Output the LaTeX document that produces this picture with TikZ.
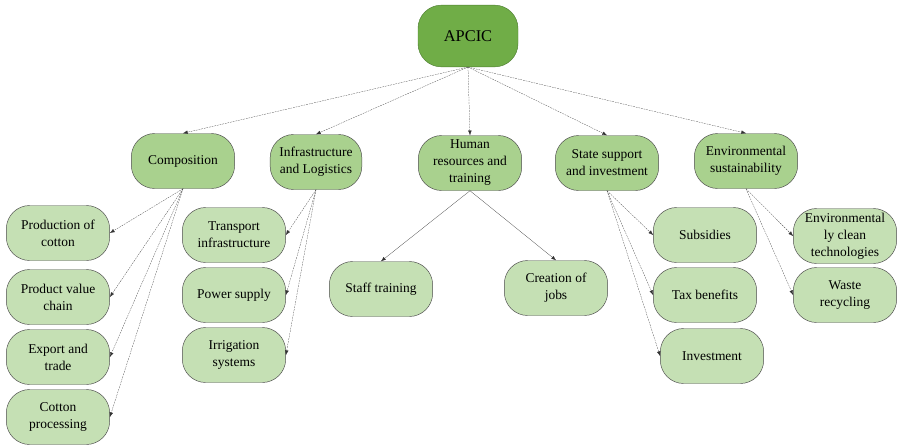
\documentclass[tikz,border=0pt]{standalone}
\usepackage{fontspec}
\setmainfont{Liberation Serif}
\newfontfamily\boxfont{Liberation Serif}
\usetikzlibrary{arrows.meta}
\definecolor{topgreen}{HTML}{70AD47}
\definecolor{topedge}{HTML}{4F7F33}
\definecolor{midgreen}{HTML}{A9D18E}
\definecolor{lowgreen}{HTML}{C5E0B4}
\begin{document}
\begin{tikzpicture}[x=0.03cm,y=-0.03cm,
	box/.style={draw=gray!60!black,thin,rounded corners=0.7cm,align=center,
		minimum width=3.1cm,minimum height=1.65cm,inner sep=1pt,
		font=\boxfont\fontsize{11.5}{14.5}\selectfont},
	topbox/.style={box,fill=topgreen,draw=topedge,minimum width=3cm,minimum height=1.85cm,
		font=\boxfont\fontsize{14}{16}\selectfont},
	midbox/.style={box,fill=midgreen},
	lowbox/.style={box,fill=lowgreen},
	link/.style={-{Latex[length=4pt,width=3pt]},very thin,dash pattern=on 1.5pt off 0.8pt,gray!40!black}]
	\useasboundingbox (0,0) rectangle (899,446);
	% top
	\node [topbox] (apcic) at (468,36) {APCIC};
	% first level
	\node [midbox] (comp) at (183,161) {Composition};
	\node [midbox,minimum width=2.75cm] (infra) at (316,162) {Infrastructure\\and Logistics};
	\node [midbox] (human) at (470,163) {Human\\resources and\\training};
	\node [midbox] (state) at (607,163) {State support\\and investment};
	\node [midbox] (env) at (746,161) {Environmental\\sustainability};
	% second level
	\node [lowbox] (prod) at (58,233) {Production of\\cotton};
	\node [lowbox] (chain) at (58,297) {Product value\\chain};
	\node [lowbox] (export) at (58,357) {Export and\\trade};
	\node [lowbox] (proc) at (58,417) {Cotton\\processing};
	\node [lowbox] (trans) at (234,235) {Transport\\infrastructure};
	\node [lowbox] (power) at (234,295) {Power supply};
	\node [lowbox] (irrig) at (234,355) {Irrigation\\systems};
	\node [lowbox] (staff) at (381,289) {Staff training};
	\node [lowbox] (jobs) at (556,288) {Creation of\\jobs};
	\node [lowbox] (subs) at (705,235) {Subsidies};
	\node [lowbox] (tax) at (705,295) {Tax benefits};
	\node [lowbox] (invest) at (712,356) {Investment};
	\node [lowbox] (clean) at (845,236) {Environmental\\ly clean\\technologies};
	\node [lowbox] (waste) at (845,295) {Waste\\recycling};
	% arrows
	\foreach \n in {comp,infra,human,state,env}
		\draw [link] (apcic.south)--(\n.north);
	\foreach \n in {prod,chain,export,proc}
		\draw [link] (comp.south)--(\n.east);
	\foreach \n in {trans,power,irrig}
		\draw [link] (infra.south)--(\n.east);
	\foreach \n in {subs,tax,invest}
		\draw [link] (state.south)--(\n.west);
	\foreach \n in {clean,waste}
		\draw [link] (env.south)--(\n.west);
	\draw [link,solid] (human.south)--(staff.north);
	\draw [link,solid] (human.south)--(jobs.north);
\end{tikzpicture}
\end{document}
